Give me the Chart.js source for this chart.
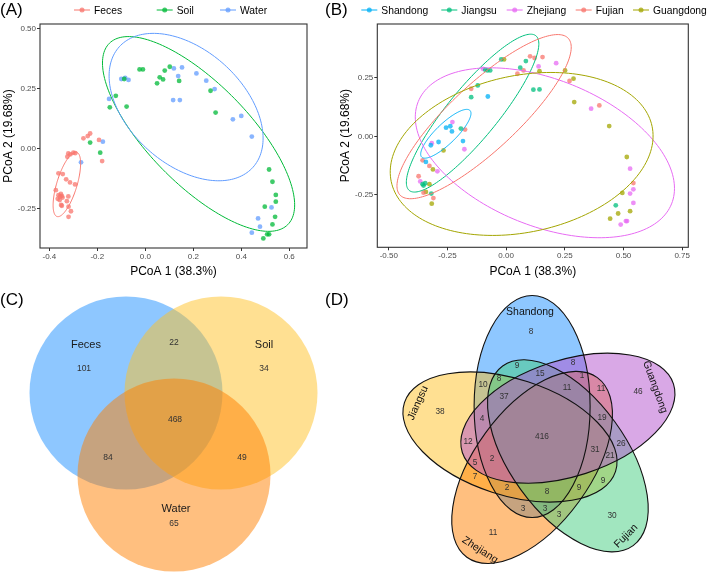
<!DOCTYPE html>
<html lang="en">
<head>
  <meta charset="UTF-8" />
  <title>PCoA and Venn diagrams</title>
  <style>
    body { margin:0; background:#fff; font-family:"Liberation Sans", Arial, sans-serif; }
    #fig { position:relative; width:708px; height:572px; overflow:hidden; }
    #fig canvas { position:absolute; display:block; }
    .tag { position:absolute; font-size:17px; line-height:20px; color:#000; }
  </style>
</head>
<body>
  <div id="fig">
    <canvas id="pcoaA" width="330" height="290" style="left:0;top:0"></canvas>
    <canvas id="pcoaB" width="371" height="290" style="left:337px;top:0"></canvas>
    <canvas id="vennC" width="354" height="282" style="left:0;top:290px"></canvas>
    <canvas id="vennD" width="354" height="282" style="left:354px;top:290px"></canvas>
    <div class="tag" style="left:0;top:0">(A)</div>
    <div class="tag" style="left:325px;top:0">(B)</div>
    <div class="tag" style="left:0;top:290px">(C)</div>
    <div class="tag" style="left:325px;top:290px">(D)</div>
  </div>

  <script src="https://cdn.jsdelivr.net/npm/chart.js@4"></script>
  <script>
  // 1) PCoA coordinates (PCoA 1, PCoA 2) by sample source, panel A
  const fecesPts = [
    [-0.258,0.042],[-0.240,0.051],[-0.230,0.062],[-0.193,0.035],[-0.180,-0.053],
    [-0.321,-0.021],[-0.312,-0.025],[-0.300,-0.018],[-0.292,-0.020],[-0.325,-0.035],
    [-0.362,-0.104],[-0.344,-0.107],[-0.330,-0.129],[-0.314,-0.142],[-0.293,-0.150],
    [-0.373,-0.174],[-0.362,-0.195],[-0.355,-0.200],[-0.348,-0.198],[-0.365,-0.210],
    [-0.357,-0.215],[-0.352,-0.190],[-0.345,-0.205],[-0.321,-0.200],[-0.327,-0.220],
    [-0.351,-0.236],[-0.320,-0.243],[-0.348,-0.239],[-0.310,-0.262],[-0.320,-0.285]
  ];
  const soilPts = [
    [-0.024,0.329],[-0.010,0.329],[0.049,0.271],[0.060,0.296],[0.074,0.287],
    [0.081,0.324],[0.102,0.340],[0.141,0.281],[-0.088,0.289],[-0.123,0.219],
    [-0.148,0.171],[-0.078,0.174],[-0.230,0.024],[-0.188,-0.018],[0.272,0.240],
    [0.293,0.149],[0.516,-0.088],[0.530,-0.139],[0.544,-0.194],[0.544,-0.222],
    [0.498,-0.243],[0.541,-0.285],[0.530,-0.317],[0.516,-0.358],[0.508,-0.358],
    [0.492,-0.375]
  ];
  const waterPts = [
    [-0.151,0.206],[-0.100,0.289],[-0.084,0.294],[-0.070,0.285],[-0.177,0.028],
    [-0.268,-0.058],[0.119,0.333],[0.137,0.301],[0.153,0.337],[0.116,0.201],
    [0.144,0.201],[0.213,0.312],[0.254,0.282],[0.289,0.247],[0.365,0.121],
    [0.400,0.135],[0.444,0.049],[0.526,-0.246],[0.470,-0.292],[0.478,-0.326],
    [0.444,-0.351]
  ];

  // 2) same ordination, coloured by province, panel B
  const shandongPts = [
    [-0.256,0.037],[-0.238,0.043],[-0.231,0.021],[-0.184,-0.020],[-0.288,-0.024],
    [-0.321,-0.038],[-0.342,-0.109],[-0.078,0.170]
  ];
  const jiangsuPts = [
    [-0.193,0.033],[-0.356,-0.204],[-0.345,-0.200],[-0.352,-0.210],[-0.319,-0.244],
    [-0.149,0.167],[-0.121,0.217],[-0.089,0.284],[-0.080,0.281],[-0.068,0.281],
    [-0.021,0.328],[0.060,0.293],[0.084,0.321],[0.116,0.199],[0.142,0.200],
    [0.467,-0.294]
  ];
  const zhejiangPts = [
    [-0.229,0.061],[-0.178,-0.055],[-0.317,-0.029],[-0.293,-0.149],[-0.366,-0.192],
    [-0.099,0.288],[0.138,0.298],[0.213,0.312],[0.362,0.118],[0.528,-0.138],
    [0.542,-0.226],[0.528,-0.244],[0.542,-0.284],[0.510,-0.361],[0.515,-0.361],
    [0.488,-0.376]
  ];
  const fujianPts = [
    [-0.175,0.029],[-0.356,-0.102],[-0.327,-0.126],[-0.373,-0.170],[-0.352,-0.240],
    [-0.310,-0.263],[-0.149,0.203],[0.048,0.267],[0.074,0.281],[0.102,0.341],
    [0.121,0.334],[0.155,0.338],[0.270,0.236],[0.397,0.132],[0.542,-0.199]
  ];
  const guangdongPts = [
    [-0.267,-0.060],[-0.312,-0.141],[-0.327,-0.204],[-0.342,-0.237],[-0.317,-0.287],
    [-0.009,0.328],[0.142,0.278],[0.251,0.281],[0.287,0.246],[0.290,0.146],
    [0.439,0.044],[0.514,-0.088],[0.495,-0.241],[0.477,-0.329],[0.528,-0.319],
    [0.443,-0.351]
  ];

  // 3) 95% ellipses: centre x, centre y, semi-major, semi-minor, angle (deg)
  const fecesEll = [-0.327, -0.150, 0.140, 0.042, 73];
  const soilEll = [0.222, 0.060, 0.530, 0.210, -45.5];
  const waterEll = [0.170, 0.172, 0.375, 0.238, -42];
  const shandongEll = [-0.257, 0.011, 0.143, 0.043, 44];
  const jiangsuEll = [-0.143, 0.099, 0.426, 0.107, 50.7];
  const zhejiangEll = [0.165, -0.070, 0.582, 0.312, -22];
  const fujianEll = [-0.094, 0.084, 0.490, 0.142, 43];
  const guangdongEll = [0.066, -0.075, 0.568, 0.334, 12];

  // 4) axis ticks
  const xTicksA = [-0.4, -0.2, 0, 0.2, 0.4, 0.6];
  const yTicksA = [-0.25, 0, 0.25, 0.5];
  const xTicksB = [-0.5, -0.25, 0, 0.25, 0.5, 0.75];
  const yTicksB = [-0.25, 0, 0.25];

  // 5) Venn counts
  const sources = ['Feces', 'Soil', 'Water'];
  const vennCCounts = [101, 34, 65, 22, 84, 49, 468];
  const provinces = ['Shandong', 'Guangdong', 'Fujian', 'Zhejiang', 'Jiangsu'];
  const vennDCounts = [8, 46, 30, 11, 38, 9, 8, 15, 1, 10, 8, 11, 11, 37, 4, 19,
                       416, 12, 26, 31, 21, 5, 2, 7, 9, 2, 8, 9, 3, 3, 3];

  // ---- layout (panel units) ----
  const vennCCircles = [[126, 103], [221, 103], [174, 185]];
  const vennCRadius = 96.5;
  const vennCNamePos = [[86, 55], [264, 55], [176, 219]];
  const vennCCountPos = [[84, 79], [264, 79], [174, 234], [174, 53], [108, 168], [242, 168], [175, 130]];
  const vennDCentre = [188, 147], vennDShift = 32, vennDLong = 111, vennDShort = 58;
  const vennDDrawOrder = [0, 4, 3, 2, 1]; // Shandong, Jiangsu, Zhejiang, Fujian, Guangdong
  const vennDNamePos = [[176, 22, 0], [301, 97, 70], [272, 246, -45], [126, 260, 33], [64, 113, -66]];
  const vennDCountPos = [
    [177,42],[284,102],[258,226],[139,243],[86,122],[163,76],[219,73],[186,84],[228,86],
    [129,95],[145,89],[213,98],[247,99],[150,107],[128,129],[248,128],[188,147],[114,152],
    [267,154],[241,160],[256,166],[121,173],[138,169],[121,187],[249,191],[153,198],
    [193,202],[225,198],[169,219],[191,219],[205,225]
  ];

  const FONT = '"Liberation Sans", Arial, sans-serif';
  Chart.defaults.font.family = FONT;
  Chart.defaults.animation = false;
  Chart.defaults.events = [];

  const rgba = (hex, a) => {
    const n = parseInt(hex.slice(1), 16);
    return `rgba(${n >> 16},${(n >> 8) & 255},${n & 255},${a})`;
  };
  const toXY = pts => pts.map(([x, y]) => ({ x, y }));

  function group(label, pts, ell, colour) {
    return {
      label, data: toXY(pts), ellipse: ell,
      backgroundColor: rgba(colour, 0.75), borderColor: colour,
      pointRadius: 2.4, pointHoverRadius: 2.4, pointBorderWidth: 0
    };
  }

  // stat_ellipse-like outlines, mapped through the chart scales
  const ellipsePlugin = {
    id: 'statEllipse',
    afterDatasetsDraw(chart) {
      const { ctx, scales: { x, y } } = chart;
      ctx.save();
      chart.data.datasets.forEach(ds => {
        const [cx, cy, a, b, deg] = ds.ellipse;
        const r = deg * Math.PI / 180;
        ctx.beginPath();
        for (let i = 0; i <= 180; i++) {
          const t = i / 180 * 2 * Math.PI;
          const u = a * Math.cos(t), v = b * Math.sin(t);
          const px = x.getPixelForValue(cx + u * Math.cos(r) - v * Math.sin(r));
          const py = y.getPixelForValue(cy + u * Math.sin(r) + v * Math.cos(r));
          if (i === 0) ctx.moveTo(px, py); else ctx.lineTo(px, py);
        }
        ctx.strokeStyle = ds.borderColor;
        ctx.lineWidth = 1;
        ctx.stroke();
      });
      ctx.restore();
    }
  };

  const framePlugin = {
    id: 'frame',
    afterDraw(chart) {
      const a = chart.chartArea, ctx = chart.ctx;
      ctx.save();
      ctx.strokeStyle = '#333';
      ctx.lineWidth = 1.1;
      ctx.strokeRect(a.left, a.top, a.right - a.left, a.bottom - a.top);
      ctx.restore();
    }
  };

  // ggplot-like legend row: short line with a dot, then the label
  function keyLegend(xs) {
    return {
      id: 'keyLegend',
      afterDraw(chart) {
        const ctx = chart.ctx, y = 10;
        ctx.save();
        ctx.font = `10.3px ${FONT}`;
        ctx.textBaseline = 'middle';
        chart.data.datasets.forEach((ds, i) => {
          const x = xs[i];
          ctx.strokeStyle = ds.borderColor; ctx.lineWidth = 1;
          ctx.beginPath(); ctx.moveTo(x, y); ctx.lineTo(x + 16, y); ctx.stroke();
          ctx.fillStyle = ds.backgroundColor;
          ctx.beginPath(); ctx.arc(x + 8, y, 2.5, 0, 2 * Math.PI); ctx.fill();
          ctx.fillStyle = '#000';
          ctx.fillText(ds.label, x + 20, y + 1);
        });
        ctx.restore();
      }
    };
  }

  function axis(min, max, ticks, dec, title, fit, isX) {
    return {
      type: 'linear', min, max,
      afterBuildTicks: s => { s.ticks = ticks.map(v => ({ value: v })); },
      afterFit: s => { if (isX) s.height = fit; else s.width = fit; },
      grid: { drawOnChartArea: false, drawTicks: true, tickLength: 3, color: '#333' },
      border: { display: false },
      ticks: {
        color: '#4d4d4d', font: { size: 8 }, padding: 1,
        maxRotation: 0, autoSkip: false, callback: v => v.toFixed(dec)
      },
      title: {
        display: true, text: title, color: '#000', font: { size: 12 },
        padding: isX ? { top: 0, bottom: 0 } : { top: 1, bottom: 0 }
      }
    };
  }

  function pcoa(id, datasets, sx, sy, padRight, legendXs) {
    return new Chart(document.getElementById(id), {
      type: 'scatter',
      data: { datasets },
      options: {
        responsive: false,
        layout: { padding: { top: 24, right: padRight, bottom: 11, left: 0 } },
        plugins: { legend: { display: false }, tooltip: { enabled: false } },
        scales: { x: sx, y: sy }
      },
      plugins: [ellipsePlugin, framePlugin, keyLegend(legendXs)]
    });
  }

  // 6) panel A
  pcoa('pcoaA', [
    group(sources[0], fecesPts, fecesEll, '#F8766D'),
    group(sources[1], soilPts, soilEll, '#00BA38'),
    group(sources[2], waterPts, waterEll, '#619CFF')
  ],
  axis(-0.439, 0.674, xTicksA, 1, 'PCoA 1 (38.3%)', 31, true),
  axis(-0.415, 0.518, yTicksA, 2, 'PCoA 2 (19.68%)', 40, false),
  23, [74, 156.7, 220]);

  // 7) panel B
  pcoa('pcoaB', [
    group('Shandong', shandongPts, shandongEll, '#00B0F6'),
    group('Jiangsu', jiangsuPts, jiangsuEll, '#00BF7D'),
    group('Zhejiang', zhejiangPts, zhejiangEll, '#E76BF3'),
    group('Fujian', fujianPts, fujianEll, '#F8766D'),
    group('Guangdong', guangdongPts, guangdongEll, '#A3A500')
  ],
  axis(-0.549, 0.776, xTicksB, 2, 'PCoA 1 (38.3%)', 31.7, true),
  axis(-0.473, 0.479, yTicksB, 2, 'PCoA 2 (19.68%)', 40.3, false),
  19.7, [24.3, 104.3, 169.7, 238.7, 296]);

  // 8) Venn panels: shapes and text drawn through hidden linear scales
  function vennPlugin(shapes, outline) {
    const path = (ctx, x, y, s) => {
      ctx.beginPath();
      ctx.ellipse(x.getPixelForValue(s.cx), y.getPixelForValue(s.cy), s.rx, s.ry,
                  s.rot * Math.PI / 180, 0, 2 * Math.PI);
    };
    return {
      id: 'venn',
      beforeDatasetsDraw(chart) {
        const { ctx, scales: { x, y } } = chart;
        ctx.save();
        shapes.forEach(s => { path(ctx, x, y, s); ctx.fillStyle = s.fill; ctx.fill(); });
        if (outline) shapes.forEach(s => {
          path(ctx, x, y, s); ctx.strokeStyle = '#111'; ctx.lineWidth = 1.1; ctx.stroke();
        });
        ctx.restore();
      },
      afterDatasetsDraw(chart) {
        const ctx = chart.ctx;
        ctx.save();
        ctx.textAlign = 'center';
        ctx.textBaseline = 'middle';
        chart.data.datasets.forEach((ds, i) => {
          const meta = chart.getDatasetMeta(i);
          ctx.font = `${ds.fontSize}px ${FONT}`;
          ctx.fillStyle = ds.textColor;
          meta.data.forEach((pt, j) => {
            ctx.save();
            ctx.translate(pt.x, pt.y);
            ctx.rotate((ds.angles ? ds.angles[j] : 0) * Math.PI / 180);
            ctx.fillText(ds.texts[j], 0, 0);
            ctx.restore();
          });
        });
        ctx.restore();
      }
    };
  }

  function vennChart(id, datasets, shapes, outline) {
    return new Chart(document.getElementById(id), {
      type: 'scatter',
      data: { datasets: datasets.map(d => Object.assign({ pointRadius: 0, pointHoverRadius: 0 }, d)) },
      options: {
        responsive: false,
        layout: { padding: 0 },
        plugins: { legend: { display: false }, tooltip: { enabled: false } },
        scales: {
          x: { type: 'linear', min: 0, max: 354, display: false },
          y: { type: 'linear', min: 0, max: 282, reverse: true, display: false }
        }
      },
      plugins: [vennPlugin(shapes, outline)]
    });
  }

  const vennCFill = ['rgba(30,144,255,0.5)', 'rgba(255,193,37,0.5)', 'rgba(255,127,0,0.5)'];
  vennChart('vennC', [
    { data: toXY(vennCNamePos), texts: sources, fontSize: 11, textColor: '#1a1a1a' },
    { data: toXY(vennCCountPos), texts: vennCCounts, fontSize: 8.5, textColor: '#333' }
  ], vennCCircles.map(([cx, cy], i) => ({ cx, cy, rx: vennCRadius, ry: vennCRadius, rot: 0, fill: vennCFill[i] })), false);

  const vennDFill = ['rgba(30,144,255,0.5)', 'rgba(180,82,205,0.5)', 'rgba(67,205,128,0.5)',
                     'rgba(255,127,0,0.5)', 'rgba(255,193,37,0.5)'];
  const vennDShapes = vennDDrawOrder.map(k => {
    const phi = (-18 + 72 * k) * Math.PI / 180;
    return {
      cx: vennDCentre[0] + vennDShift * Math.sin(phi),
      cy: vennDCentre[1] - vennDShift * Math.cos(phi),
      rx: vennDShort, ry: vennDLong, rot: 72 * k, fill: vennDFill[k]
    };
  });
  vennChart('vennD', [
    { data: toXY(vennDNamePos), texts: provinces, angles: vennDNamePos.map(p => p[2]), fontSize: 10.5, textColor: '#111' },
    { data: toXY(vennDCountPos), texts: vennDCounts, fontSize: 8.3, textColor: '#333' }
  ], vennDShapes, true);
  </script>
</body>
</html>
